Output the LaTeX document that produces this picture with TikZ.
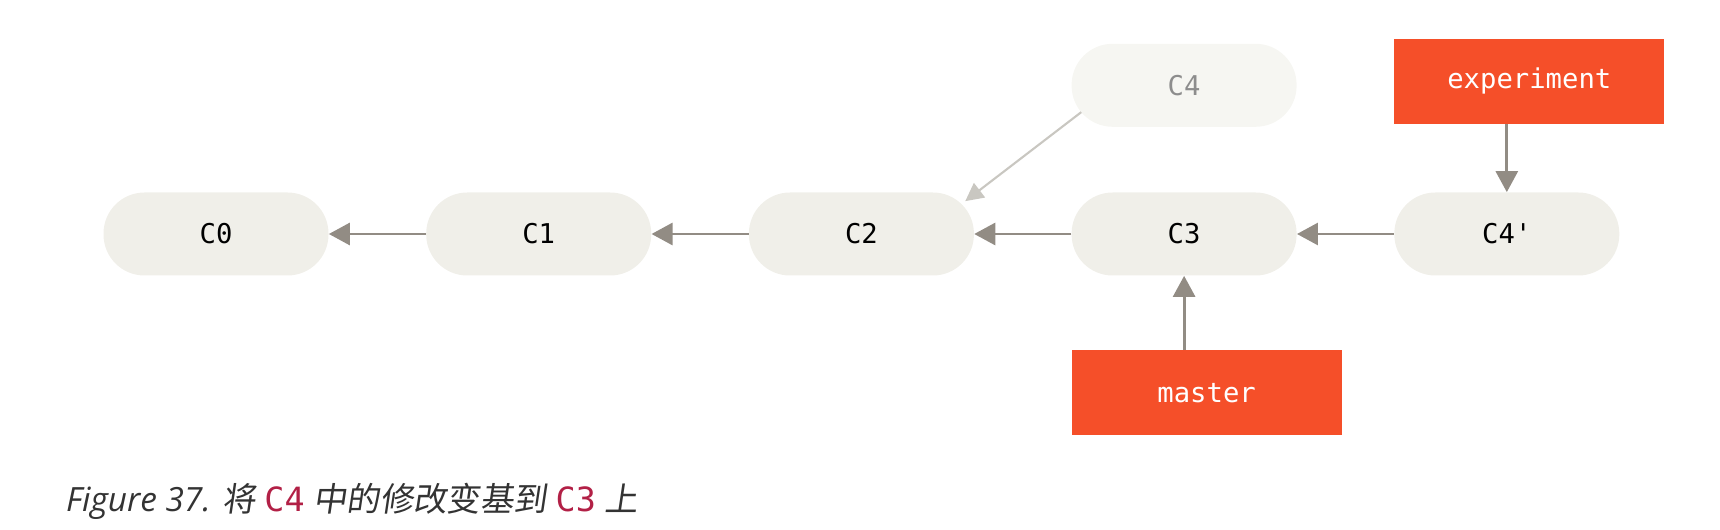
\documentclass[tikz,border=0pt]{standalone}
\usepackage{fontspec}
\usepackage{xcolor}
\usepackage{tikz}
\usetikzlibrary{arrows.meta,positioning}
\setmonofont{DejaVu Sans Mono}
\newfontfamily\capfont{Open Sans}
\newfontfamily\cjk[FakeSlant=0.15]{Noto Sans CJK SC}
\definecolor{commitfill}{RGB}{240,239,233}
\definecolor{ghostfill}{RGB}{246,246,242}
\definecolor{ghosttext}{RGB}{141,141,141}
\definecolor{arrowgray}{RGB}{146,140,132}
\definecolor{ghostarrow}{RGB}{201,199,193}
\definecolor{branchred}{RGB}{245,79,41}
\definecolor{captext}{RGB}{51,51,51}
\definecolor{codered}{RGB}{178,32,70}
\newcommand{\capcode}[1]{{\ttfamily\upshape\color{codered}#1}}

\begin{document}
\begin{tikzpicture}[node distance=1.94cm,
  every node/.style={font=\ttfamily\fontsize{15.5}{18}\selectfont},
  commit/.style={rectangle, rounded corners=0.82cm, fill=commitfill, minimum width=4.5cm, minimum height=1.66cm, inner sep=0pt},
  ghost/.style={commit, fill=ghostfill, text=ghosttext},
  branch/.style={rectangle, fill=branchred, text=white, minimum width=5.4cm, minimum height=1.7cm, inner sep=0pt},
  arr/.style={draw=arrowgray, line width=1.6pt, -{Triangle[length=0.42cm, width=0.44cm]}},
  ghostarr/.style={draw=ghostarrow, line width=1.2pt, -{Triangle[length=0.36cm, width=0.36cm]}}]
\useasboundingbox (0,0) rectangle (34.4,-10.6);

% commits
\node (c0) [commit] at (4.32,-4.68) {C0};
\node (c1) [commit, right=of c0] {C1};
\node (c2) [commit, right=of c1] {C2};
\node (c3) [commit, right=of c2] {C3};
\node (c4p) [commit, right=of c3] {C4'};
\node (c4) [ghost, above=1.3cm of c3] {C4};

% branches
\node (master) [branch, anchor=north west] at ([yshift=-1.48cm]c3.south west) {master};
\node (experiment) [branch, anchor=south west] at ([yshift=1.36cm]c4p.north west) {experiment};

\draw [arr] (c1) -- (c0);
\draw [arr] (c2) -- (c1);
\draw [arr] (c3) -- (c2);
\draw [arr] (c4p) -- (c3);
\draw [ghostarr] ([xshift=0.2cm, yshift=0.3cm]c4.south west) -- ([xshift=-0.18cm, yshift=-0.18cm]c2.north east);
\draw [arr] (master.north -| c3) -- (c3.south);
\draw [arr] (experiment.south -| c4p) -- (c4p.north);

\node (caption) [anchor=west, text=captext, font=\capfont\itshape\fontsize{19}{22}\selectfont] at (1.2,-10.02)
  {Figure 37. {\cjk 将} \capcode{C4} {\cjk 中的修改变基到} \capcode{C3} {\cjk 上}};
\end{tikzpicture}
\end{document}
